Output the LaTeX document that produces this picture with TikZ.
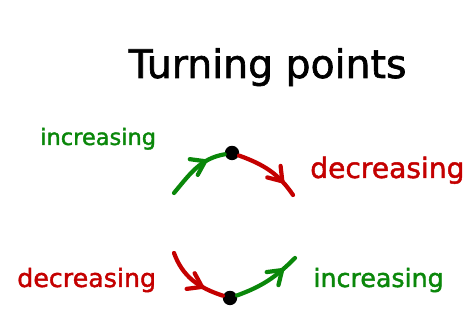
\documentclass[tikz,border=0pt]{standalone}
\usepackage{fontspec}
\setmainfont{DejaVu Sans}
\newfontface\marker{DejaVu Sans}[FakeBold=1.6]
\usetikzlibrary{arrows.meta,decorations.markings}
\definecolor{Ink}{HTML}{000000}
\definecolor{Up}{HTML}{0A870A}
\definecolor{Down}{HTML}{C40000}
\tikzset{
  arcline/.style={line width=3pt, line cap=round, postaction={decorate},
    decoration={markings, mark=at position #1 with {\arrow{Straight Barb[length=3.2mm,width=4.4mm,line cap=round]}}}},
  arcline/.default=0.65,
  uparc/.style={arcline=#1, color=Up},
  uparc/.default=0.65,
  downarc/.style={arcline=#1, color=Down},
  downarc/.default=0.65,
  dotnode/.style={circle, fill=Ink, inner sep=0pt, minimum size=3.6mm},
  labeltext/.style={anchor=base west, inner sep=0pt, font=\marker\fontsize{18}{20}\selectfont},
}
\begin{document}
\begin{tikzpicture}[x=1cm,y=1cm]
\path[use as bounding box] (0,0) rectangle (11.8,8.35);
\node[anchor=base,inner sep=0pt,font=\marker\fontsize{28}{30}\selectfont] (title) at (6.69,6.4) {Turning points};

% maximum
\coordinate (topin) at (4.35,3.525);
\coordinate (topout) at (7.325,3.475);
\node[dotnode] (top) at (5.80,4.525) {};
\draw[uparc=0.74] (topin) to[out=50,in=190] (top);
\draw[downarc=0.8] (top) to[out=-20,in=124] (topout);
\node[labeltext,text=Up,font=\marker\fontsize{16}{18}\selectfont] (incA) at (1.0,4.725) {increasing};
\node[labeltext,text=Down,font=\marker\fontsize{20}{22}\selectfont] (decA) at (7.75,3.9) {decreasing};

% minimum
\coordinate (botin) at (4.35,2.025);
\coordinate (botout) at (7.375,1.90);
\node[dotnode] (bottom) at (5.75,0.90) {};
\draw[downarc=0.72] (botin) to[out=-70,in=162] (bottom);
\draw[uparc=0.8] (bottom) to[out=20,in=225] (botout);
\node[labeltext,text=Down] (decB) at (0.425,1.175) {decreasing};
\node[labeltext,text=Up] (incB) at (7.83,1.175) {increasing};
\end{tikzpicture}
\end{document}
